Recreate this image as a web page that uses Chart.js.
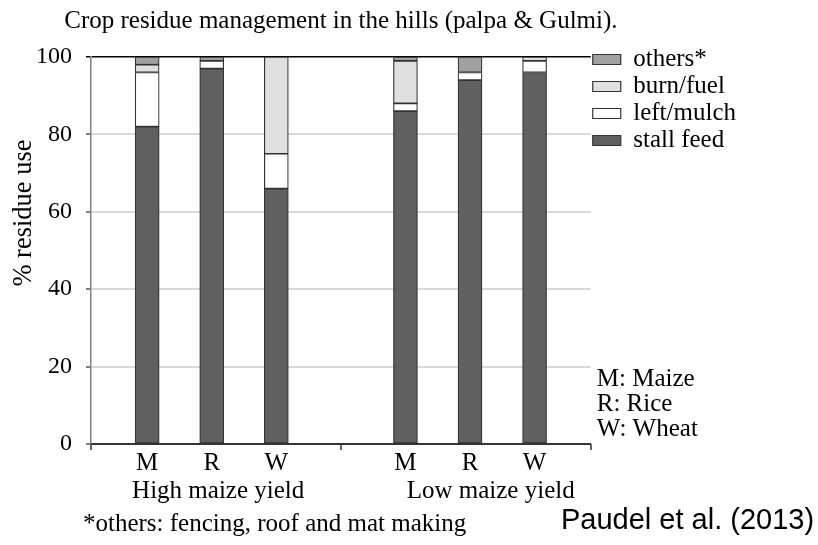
<!DOCTYPE html>
<html>
<head>
<meta charset="UTF-8">
<script src="https://cdn.jsdelivr.net/npm/chart.js@4"></script>
<style>
html, body { margin: 0; padding: 0; background: #fff; }
#wrap { width: 818px; height: 545px; }
</style>
</head>
<body>
<div id="wrap"><canvas id="chart"></canvas></div>
<script>
// values (% of residue use)
const categories = ['M', 'R', 'W', 'M', 'R', 'W'];
const groups = ['High maize yield', 'Low maize yield'];
const stallFeed = [82, 97, 66, 86, 94, 96];
const leftMulch = [14, 2, 9, 2, 2, 3];
const burnFuel = [2, 0, 25, 11, 0, 1];
const others = [2, 1, 0, 1, 4, 0];
const yTicks = [0, 20, 40, 60, 80, 100];
const cropKey = ['M: Maize', 'R: Rice', 'W: Wheat'];

const SERIF = "'Liberation Serif', 'Times New Roman', serif";
// slot of each bar: three crops, one empty slot, three crops
const pos = categories.map((c, i) => i + (i >= 3 ? 1 : 0));
const X_MIN = -0.87, X_MAX = 6.87;
const groupPos = [1.1, 5.32];

const pts = arr => arr.map((v, i) => ({ x: pos[i], y: v }));
const series = (label, data, color) => ({
	label, data: pts(data), backgroundColor: color,
	borderColor: '#333', borderWidth: 1.2, borderSkipped: false, barThickness: 24
});

const extras = {
	id: 'extras',
	afterLayout(chart) {
		// legend starts a little above the plot top
		chart.legend.top -= 12;
		chart.legend.bottom -= 12;
	},
	afterDraw(chart) {
		const { ctx, chartArea: a, scales: { x } } = chart;
		ctx.save();
		// small marks at the group boundaries
		ctx.strokeStyle = '#333';
		ctx.lineWidth = 1.5;
		[X_MIN, 3, X_MAX].forEach(v => {
			const px = Math.round(x.getPixelForValue(v));
			ctx.beginPath(); ctx.moveTo(px, a.bottom); ctx.lineTo(px, a.bottom + 6); ctx.stroke();
		});
		ctx.fillStyle = '#000';
		ctx.textBaseline = 'middle';
		ctx.font = '25px ' + SERIF;
		ctx.textAlign = 'center';
		ctx.fillText('Crop residue management in the hills (palpa & Gulmi).', (a.left + a.right) / 2, 21);
		ctx.font = '26.5px ' + SERIF;
		ctx.save();
		ctx.translate(24, 213);
		ctx.rotate(-Math.PI / 2);
		ctx.fillText('% residue use', 0, 0);
		ctx.restore();
		ctx.font = '25px ' + SERIF;
		ctx.textAlign = 'left';
		cropKey.forEach((t, i) => ctx.fillText(t, a.right + 6, 379 + i * 25));
		ctx.fillText('*others: fencing, roof and mat making', 83, 524);
		ctx.font = '29px "Liberation Sans", Arial, sans-serif';
		ctx.fillText('Paudel et al. (2013)', 561, 521);
		ctx.restore();
	}
};

new Chart(document.getElementById('chart'), {
	type: 'bar',
	data: {
		datasets: [
			series('stall feed', stallFeed, '#606060'),
			series('left/mulch', leftMulch, '#ffffff'),
			series('burn/fuel', burnFuel, '#e0e0e0'),
			series('others*', others, '#a0a0a0')
		]
	},
	options: {
		responsive: true, maintainAspectRatio: false, animation: false,
		layout: { padding: { top: 57, left: 0, right: 72, bottom: 0 } },
		plugins: {
			legend: {
				position: 'right', align: 'start', reverse: true,
				labels: { boxWidth: 28, boxHeight: 10, padding: 2, color: '#000', font: { family: SERIF, size: 25 } }
			},
			tooltip: { enabled: false }
		},
		scales: {
			x: {
				type: 'linear', stacked: true, offset: false, min: X_MIN, max: X_MAX,
				afterBuildTicks: s => { s.ticks = pos.map(v => ({ value: v })); },
				afterFit: s => { s.height = 30; },
				ticks: {
					autoSkip: false, maxRotation: 0, padding: 4, color: '#000',
					font: { family: SERIF, size: 25 },
					callback: (v, i) => categories[i]
				},
				grid: { display: false, drawTicks: false, tickLength: 0 },
				border: { color: '#333', width: 2 }
			},
			x2: {
				type: 'linear', position: 'bottom', offset: false, min: X_MIN, max: X_MAX,
				afterBuildTicks: s => { s.ticks = groupPos.map(v => ({ value: v })); },
				afterFit: s => { s.height = 71; },
				ticks: {
					autoSkip: false, maxRotation: 0, padding: 2, color: '#000',
					font: { family: SERIF, size: 25 },
					callback: (v, i) => groups[i]
				},
				grid: { display: false, drawTicks: false, tickLength: 0 },
				border: { display: false }
			},
			y: {
				stacked: true, min: 0, max: 100,
				afterBuildTicks: s => { s.ticks = yTicks.map(v => ({ value: v })); },
				afterFit: s => { s.width = 91; },
				ticks: { padding: 14, color: '#000', font: { family: SERIF, size: 24 } },
				grid: {
					color: c => c.tick.value === 100 ? '#000' : (c.tick.value === 0 ? 'rgba(0,0,0,0)' : '#d9d9d9'),
					lineWidth: c => c.tick.value === 100 ? 1.5 : 2,
					tickColor: c => c.tick.value === 100 ? '#000' : '#808080',
					tickLength: 5
				},
				border: { color: '#808080', width: 1.5 }
			}
		}
	},
	plugins: [extras]
});
</script>
</body>
</html>
